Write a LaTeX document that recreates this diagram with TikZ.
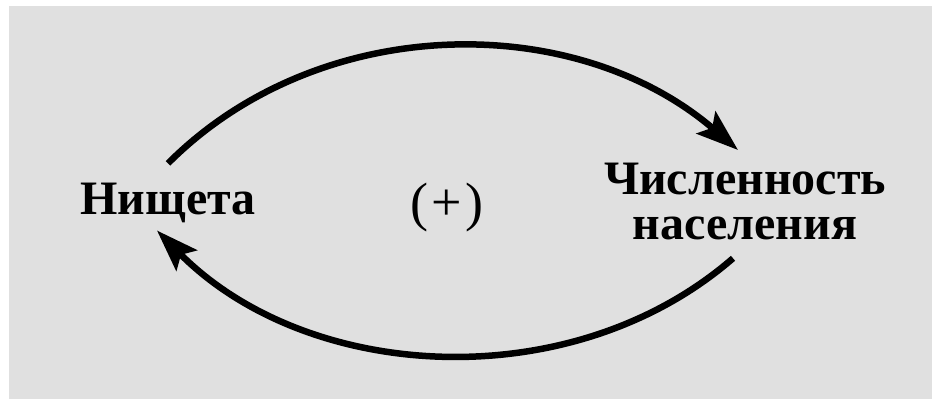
\documentclass[tikz,border=0pt]{standalone}
\usepackage{fontspec}
\setmainfont{Liberation Serif}
\usetikzlibrary{arrows.meta, positioning, calc}
\definecolor{paper}{HTML}{E0E0E0}
\definecolor{ink}{HTML}{000000}

\begin{document}
\begin{tikzpicture}[
  x=1pt, y=1pt,
  >={Stealth[length=42pt, width=29pt, inset=8pt]},
  label/.style={inner sep=0pt, text=ink, font=\fontsize{48}{45}\selectfont\bfseries, align=center},
  loop/.style={ink, line width=6.5pt, ->},
]

% Background
\useasboundingbox (0,0) rectangle (932,399);
\fill[paper] (9,0) rectangle (932,393);

% Labels
\node[label, anchor=base] (poverty) at (168,184) {Нищета};
\node[label, anchor=north] (population) at (745,236) {Численность\\населения};
\node[label, font=\fontsize{54}{54}\selectfont] (sign) at (447,191) {(\kern3pt+\kern3pt)};

% Upper arc: poverty -> population
\draw[loop] ([yshift=20pt]poverty.north)
  .. controls (319,387) and (575,389) .. ([shift={(-7pt,13pt)}]population.north);

% Lower arc: population -> poverty
\draw[loop] ([shift={(-12pt,-18pt)}]population.south)
  .. controls (572,1) and (308,16) .. ([shift={(-11pt,-7pt)}]poverty.south);

\end{tikzpicture}
\end{document}
